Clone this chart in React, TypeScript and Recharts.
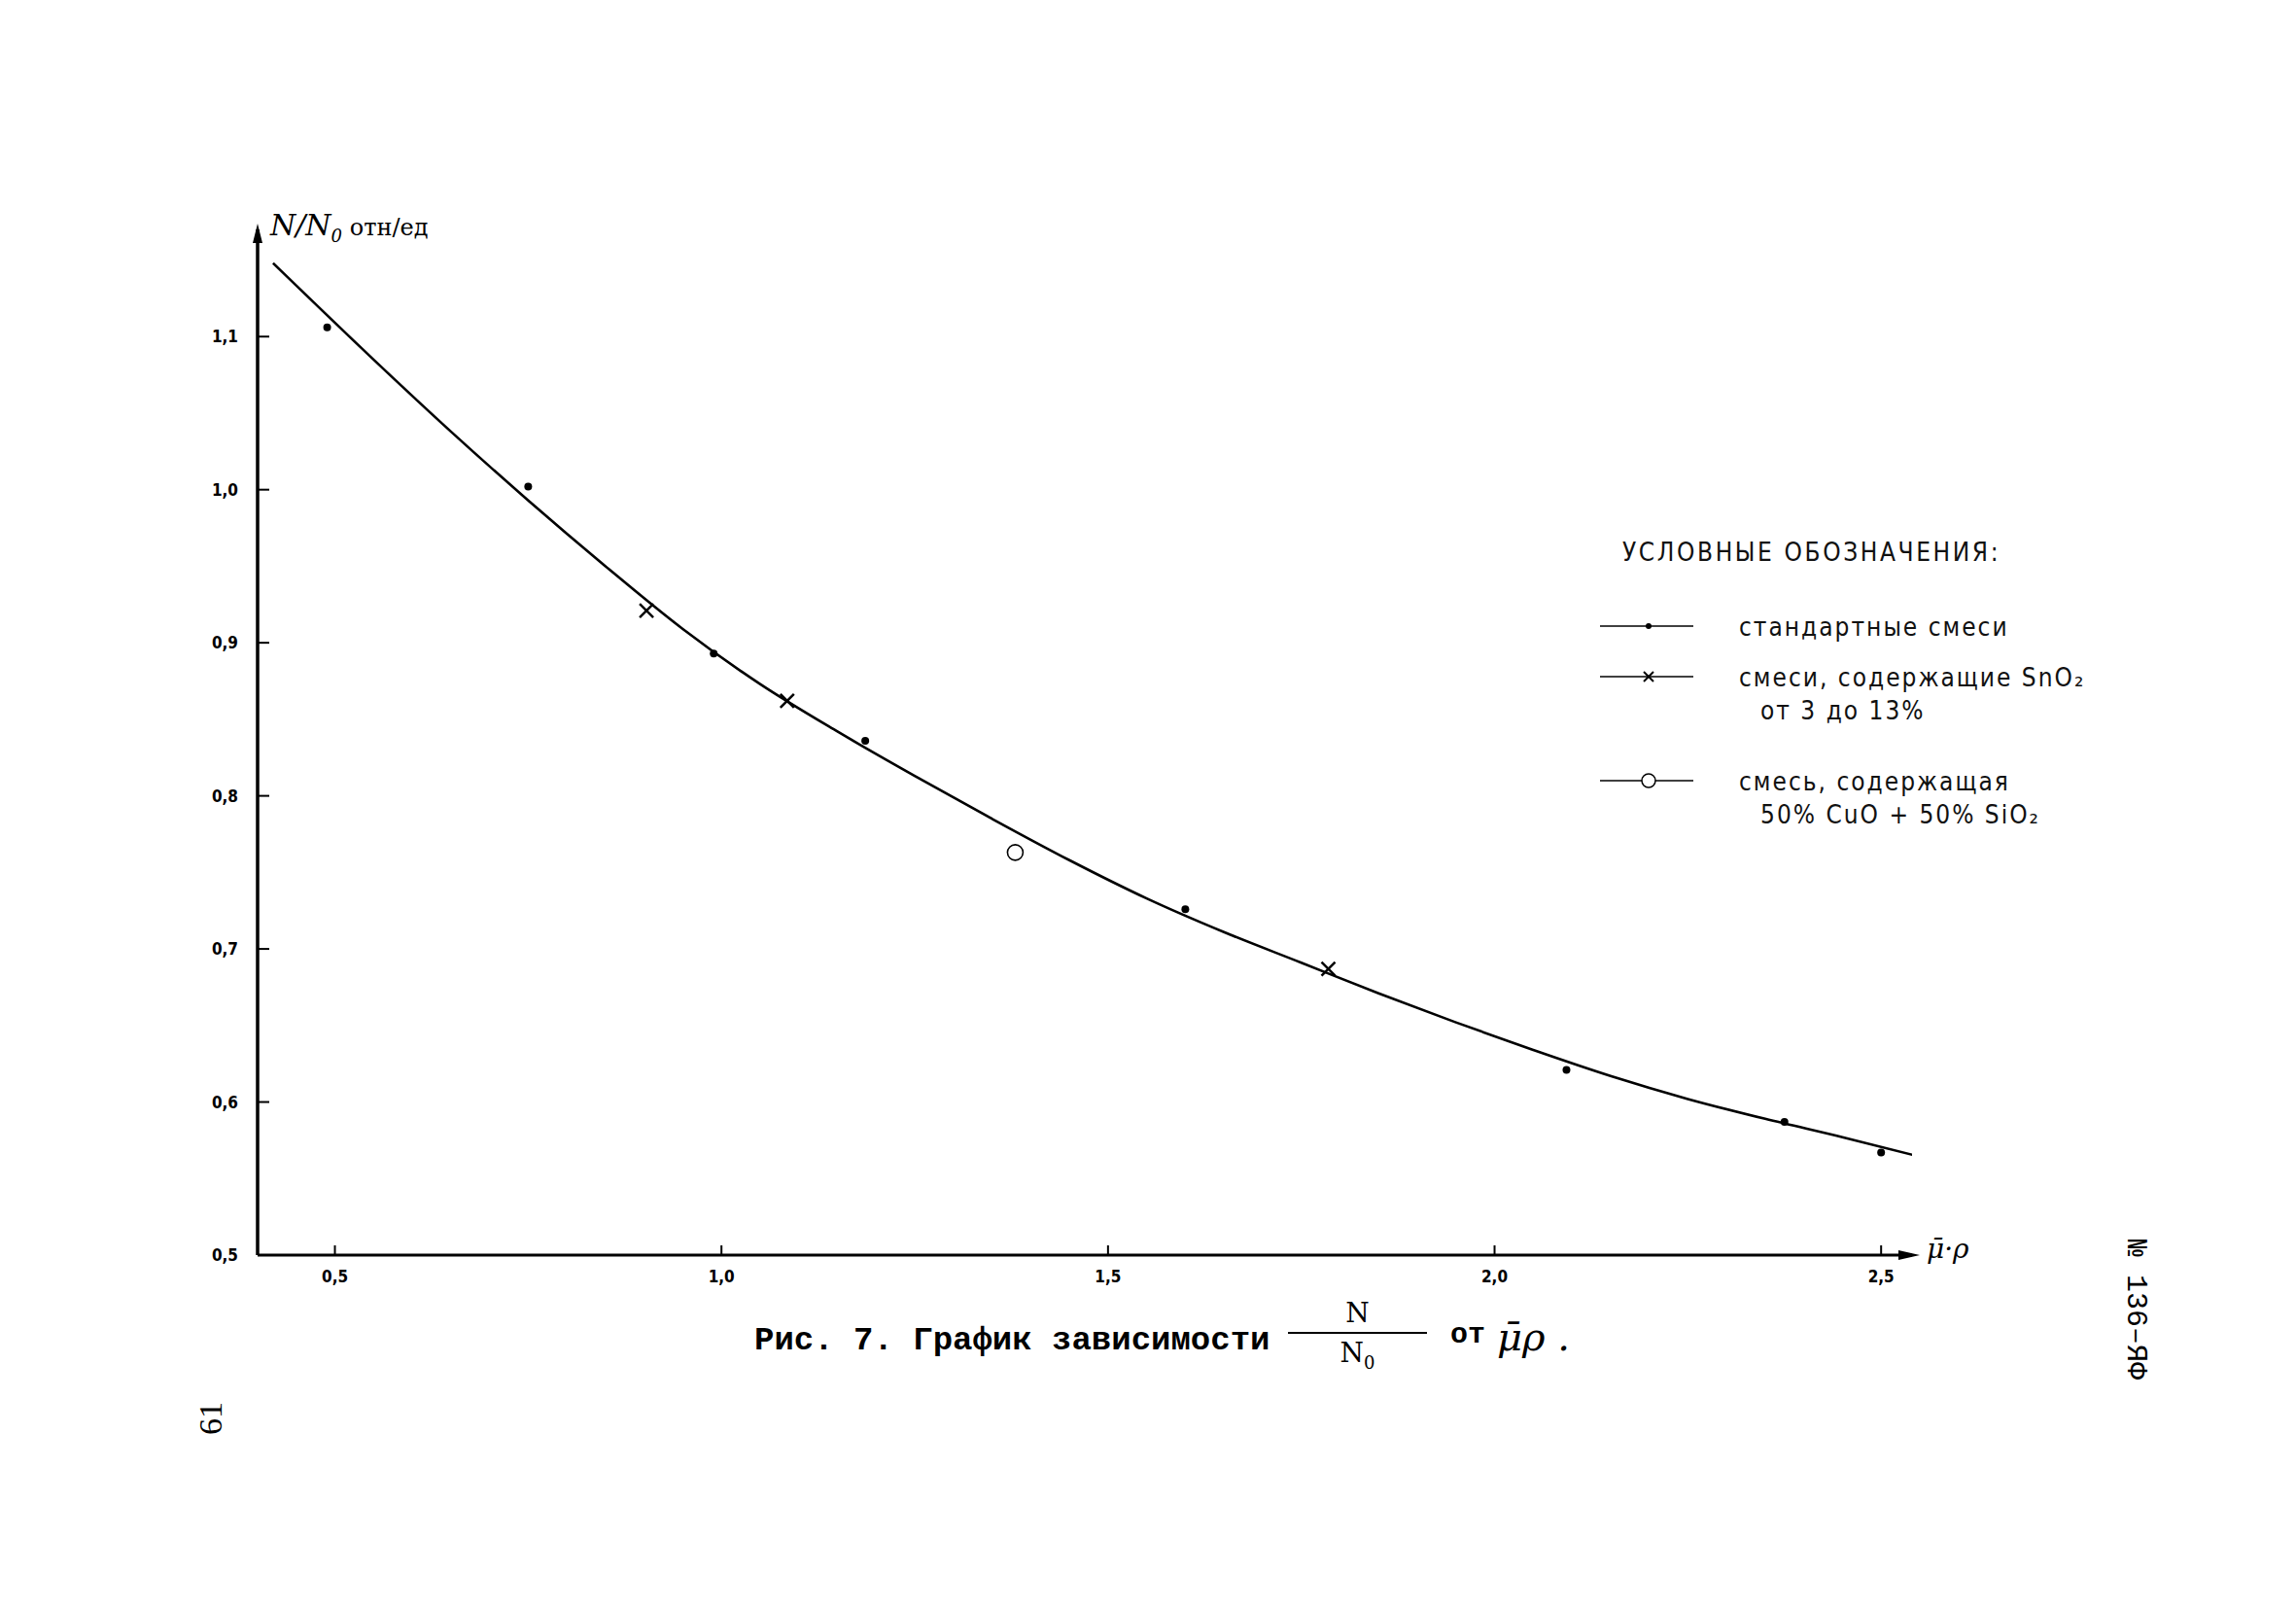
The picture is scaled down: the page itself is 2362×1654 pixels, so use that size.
import React from "react";
import {
  ComposedChart,
  Line,
  Scatter,
  XAxis,
  YAxis,
  ReferenceDot,
} from "recharts";

// smooth curve drawn through the points
const curveX = [0.42, 0.55, 0.65, 0.75, 0.85, 0.95, 1.05, 1.15, 1.25, 1.35, 1.45, 1.55, 1.65, 1.75, 1.85, 1.95, 2.05, 2.15, 2.25, 2.35, 2.45, 2.576];
const curveY = [1.148, 1.085, 1.038, 0.993, 0.95, 0.909, 0.873, 0.842, 0.813, 0.785, 0.758, 0.733, 0.711, 0.691, 0.671, 0.652, 0.634, 0.617, 0.602, 0.589, 0.577, 0.561];

// стандартные смеси
const stdX = [0.49, 0.75, 0.99, 1.186, 1.6, 2.093, 2.375, 2.5];
const stdY = [1.106, 1.002, 0.893, 0.836, 0.726, 0.621, 0.587, 0.567];

// смеси, содержащие SnO2
const snX = [0.903, 1.085, 1.785];
const snY = [0.921, 0.862, 0.687];

// смесь 50% CuO + 50% SiO2
const cuX = [1.38];
const cuY = [0.763];

const xTicks = [0.5, 1.0, 1.5, 2.0, 2.5];
const yTicks = [0.5, 0.6, 0.7, 0.8, 0.9, 1.0, 1.1];

const zip = (xs: number[], ys: number[]) => xs.map((x, i) => ({ x, y: ys[i] }));

const curve = zip(curveX, curveY);
const stdPts = zip(stdX, stdY);
const snPts = zip(snX, snY);
const cuPts = zip(cuX, cuY);

const fmt = (v: number) => v.toFixed(1).replace(".", ",");

const tickFont = "'DejaVu Sans Condensed', 'DejaVu Sans', sans-serif";

const YTick = ({ x, y, payload }: any) => (
  <g>
    <line x1={x} x2={x + 12} y1={y} y2={y} stroke="#000" strokeWidth={2} />
    <text x={x - 20} y={y + 6} textAnchor="end" fontFamily={tickFont} fontWeight="bold" fontSize={17} fill="#000">
      {fmt(payload.value)}
    </text>
  </g>
);

const XTick = ({ x, y, payload }: any) => (
  <g>
    <line x1={x} x2={x} y1={y} y2={y - 10} stroke="#000" strokeWidth={2} />
    <text x={x} y={y + 28} textAnchor="middle" fontFamily={tickFont} fontWeight="bold" fontSize={17} fill="#000">
      {fmt(payload.value)}
    </text>
  </g>
);

const Dot = ({ cx, cy }: any) => <circle cx={cx} cy={cy} r={4} fill="#000" />;
const Cross = ({ cx, cy }: any) => (
  <g stroke="#000" strokeWidth={2.5}>
    <line x1={cx - 7} y1={cy - 7} x2={cx + 7} y2={cy + 7} />
    <line x1={cx - 7} y1={cy + 7} x2={cx + 7} y2={cy - 7} />
  </g>
);
const Ring = ({ cx, cy }: any) => <circle cx={cx} cy={cy} r={8} fill="#fff" stroke="#000" strokeWidth={1.6} />;

const UpArrow = ({ cx, cy }: any) => <path d={`M${cx - 5},${cy + 14} L${cx},${cy - 6} L${cx + 5},${cy + 14} Z`} fill="#000" />;
const RightArrow = ({ cx, cy }: any) => <path d={`M${cx - 14},${cy - 5} L${cx + 8},${cy} L${cx - 14},${cy + 5} Z`} fill="#000" />;

const legendFont = "'DejaVu Sans Condensed', 'DejaVu Sans', sans-serif";

const legendRows = [
  { marker: "dot", lines: ["стандартные смеси"] },
  { marker: "cross", lines: ["смеси, содержащие SnO₂", "от 3 до 13%"] },
  { marker: "ring", lines: ["смесь, содержащая", "50% CuO + 50% SiO₂"] },
];
const rowTops = [84, 136, 243];

const LegendBox = () => (
  <div style={{ position: "relative", width: 600, height: 320, fontFamily: legendFont, color: "#111" }}>
    <div style={{ position: "absolute", left: 29, top: 8, fontSize: 26, letterSpacing: 2.6, whiteSpace: "nowrap" }}>
      УСЛОВНЫЕ ОБОЗНАЧЕНИЯ:
    </div>
    {legendRows.map((r, i) => (
      <div key={i} style={{ position: "absolute", left: 0, top: rowTops[i] }}>
        <svg width={100} height={30} style={{ position: "absolute", left: 6, top: 0 }}>
          <line x1={0} x2={96} y1={15} y2={15} stroke="#000" strokeWidth={1.5} />
          {r.marker === "dot" && <circle cx={50} cy={15} r={3} fill="#000" />}
          {r.marker === "cross" && (
            <g stroke="#000" strokeWidth={2}>
              <line x1={45} y1={10} x2={55} y2={20} />
              <line x1={45} y1={20} x2={55} y2={10} />
            </g>
          )}
          {r.marker === "ring" && <circle cx={50} cy={15} r={7} fill="#fff" stroke="#000" strokeWidth={1.5} />}
        </svg>
        <div style={{ position: "absolute", left: 149, top: -1, fontSize: 26, letterSpacing: 2, whiteSpace: "nowrap", lineHeight: "34px" }}>
          {r.lines.map((t, j) => (
            <div key={j} style={{ paddingLeft: j === 0 ? 0 : 22 }}>{t}</div>
          ))}
        </div>
      </div>
    ))}
  </div>
);

export default function App() {
  return (
    <div style={{ position: "absolute", left: 0, top: 0, width: 2362, height: 1654, background: "#fff" }}>
      <ComposedChart width={2362} height={1654} margin={{ top: 236, right: 395, bottom: 313, left: 205 }}>
        <XAxis
          type="number"
          dataKey="x"
          domain={[0.4, 2.54]}
          ticks={xTicks}
          allowDataOverflow
          height={50}
          tickSize={0}
          tickMargin={0}
          tick={<XTick />}
          axisLine={{ stroke: "#000", strokeWidth: 3 }}
          tickLine={false}
        />
        <YAxis
          type="number"
          dataKey="y"
          domain={[0.5, 1.17]}
          ticks={yTicks}
          allowDataOverflow
          width={60}
          tickSize={0}
          tickMargin={0}
          tick={<YTick />}
          axisLine={{ stroke: "#000", strokeWidth: 3.5 }}
          tickLine={false}
        />
        <Line data={curve} dataKey="y" type="monotone" stroke="#000" strokeWidth={2.6} dot={false} isAnimationActive={false} />
        <Scatter data={stdPts} dataKey="y" shape={<Dot />} isAnimationActive={false} />
        <Scatter data={snPts} dataKey="y" shape={<Cross />} isAnimationActive={false} />
        <Scatter data={cuPts} dataKey="y" shape={<Ring />} isAnimationActive={false} />
        <ReferenceDot x={0.4} y={1.17} ifOverflow="visible" shape={<UpArrow />} />
        <ReferenceDot x={2.54} y={0.5} ifOverflow="visible" shape={<RightArrow />} />
      </ComposedChart>

      {/* axis captions */}
      <div style={{ position: "absolute", left: 278, top: 214, fontFamily: "'DejaVu Serif', serif", fontStyle: "italic", fontSize: 30, whiteSpace: "nowrap" }}>
        N/N<sub style={{ fontSize: 18 }}>0</sub><span style={{ fontSize: 24, fontStyle: "normal" }}> отн/ед</span>
      </div>
      <div style={{ position: "absolute", left: 1982, top: 1268, fontFamily: "'DejaVu Serif', serif", fontStyle: "italic", fontSize: 28, whiteSpace: "nowrap" }}>
        μ̄·ρ
      </div>

      <div style={{ position: "absolute", left: 1640, top: 545 }}>
        <LegendBox />
      </div>

      {/* figure caption */}
      <div style={{ position: "absolute", left: 776, top: 1360, fontFamily: "'Liberation Mono', monospace", fontWeight: "bold", fontSize: 34, whiteSpace: "nowrap" }}>
        Рис. 7. График зависимости
      </div>
      <div style={{ position: "absolute", left: 1325, top: 1332, width: 143, textAlign: "center", fontFamily: "'DejaVu Serif', serif", fontSize: 28 }}>
        <div style={{ lineHeight: "38px" }}>N</div>
        <div style={{ borderTop: "2px solid #000", lineHeight: "40px" }}>N<sub style={{ fontSize: 18 }}>0</sub></div>
      </div>
      <div style={{ position: "absolute", left: 1492, top: 1356, fontFamily: "'Liberation Mono', monospace", fontWeight: "bold", fontSize: 30 }}>
        от
      </div>
      <div style={{ position: "absolute", left: 1540, top: 1352, fontFamily: "'DejaVu Serif', serif", fontStyle: "italic", fontSize: 40, whiteSpace: "nowrap" }}>
        μ̄ρ .
      </div>

      {/* page marks */}
      <div style={{ position: "absolute", left: 200, top: 1440, transform: "rotate(-90deg)", transformOrigin: "center", fontFamily: "'Liberation Serif', serif", fontSize: 34 }}>
        61
      </div>
      <div style={{ position: "absolute", left: 2112, top: 1330, width: 170, textAlign: "center", transform: "rotate(90deg)", fontFamily: "'Liberation Mono', monospace", fontSize: 30, whiteSpace: "nowrap" }}>
        № 136–ЯФ
      </div>
    </div>
  );
}
